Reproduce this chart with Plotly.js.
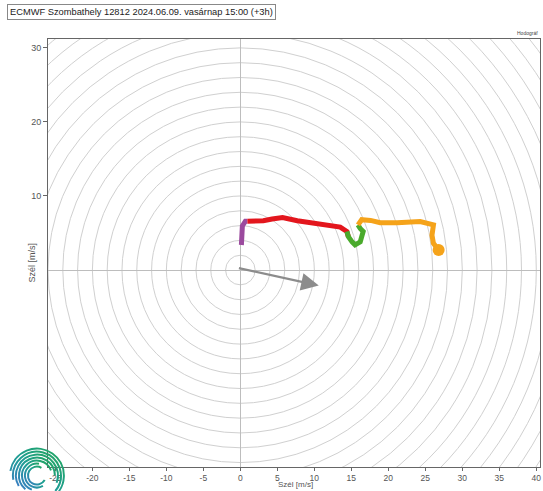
<!DOCTYPE html>
<html>
<head>
<meta charset="utf-8">
<script src="https://cdn.plot.ly/plotly-3.0.1.min.js"></script>
<style>html,body{margin:0;padding:0;background:#fff;}#chart{width:543px;height:491px;}</style>
</head>
<body>
<div id="chart"></div>
<script>
// Hodograph wind components (u, v) in m/s, per layer colour
var purpleU = [0.14, 0.14, 0.27, 0.68, 0.95];
var purpleV = [3.38, 5.10, 5.95, 6.60, 6.60];
var redU = [0.95, 3.1, 4.3, 5.7, 7.7, 9.9, 12.2, 13.5, 14.4, 14.6];
var redV = [6.60, 6.66, 6.9, 7.1, 6.66, 6.35, 6.1, 5.8, 5.2, 4.5];
var greenU = [14.4, 14.6, 15.1, 15.5, 16.2, 16.6, 16.2, 15.9];
var greenV = [5.2, 4.5, 3.8, 3.4, 3.8, 5.2, 5.6, 6.1];
var orangeU = [15.9, 16.4, 17.6, 18.9, 21.2, 23.0, 24.3, 26.1, 25.9, 26.1, 26.8];
var orangeV = [6.1, 6.8, 6.7, 6.4, 6.4, 6.4, 6.55, 6.1, 4.7, 3.6, 2.7];
var endU = [26.8];
var endV = [2.7];
// Mean wind arrow (start, end)
var arrowStart = [-0.4, 0.3];
var arrowEnd = [10.6, -2.1];
var xTicks = [-25, -20, -15, -10, -5, 0, 5, 10, 15, 20, 25, 30, 35, 40];
var yTicks = [10, 20, 30];
var titleText = "ECMWF Szombathely 12812 2024.06.09. vasárnap 15:00 (+3h)";
var axisTitle = "Szél [m/s]";
var cornerText = "Hodográf";

var ringStep = 2, ringMax = 60;
var shapes = [];
for (var r = ringStep; r <= ringMax; r += ringStep) {
  shapes.push({type: 'circle', xref: 'x', yref: 'y', x0: -r, x1: r, y0: -r, y1: r,
    line: {color: '#d0d0d0', width: 1}, layer: 'below'});
}

function seg(u, v, c) {
  return {x: u, y: v, mode: 'lines', type: 'scatter', hoverinfo: 'skip',
    line: {color: c, width: 5, shape: 'linear'}, showlegend: false};
}
var traces = [
  seg(purpleU, purpleV, '#9b4a9e'),
  seg(redU, redV, '#e3161d'),
  seg(greenU, greenV, '#4aaa2c'),
  seg(orangeU, orangeV, '#f5a31a'),
  {x: endU, y: endV, mode: 'markers', type: 'scatter', hoverinfo: 'skip',
   marker: {color: '#f5a31a', size: 12}, showlegend: false}
];

// Logo as inline SVG
function arc(cx, cy, r, a0, a1) {
  var p0 = [cx + r*Math.cos(a0*Math.PI/180), cy - r*Math.sin(a0*Math.PI/180)];
  var p1 = [cx + r*Math.cos(a1*Math.PI/180), cy - r*Math.sin(a1*Math.PI/180)];
  var large = ((a1 - a0) % 360) > 180 ? 1 : 0;
  return 'M' + p0[0].toFixed(2) + ' ' + p0[1].toFixed(2) + ' A' + r + ' ' + r + ' 0 ' + large + ' 0 ' + p1[0].toFixed(2) + ' ' + p1[1].toFixed(2);
}
var logoArcs = [[9, 60, 330], [12, 80, 300], [15, 20, 250], [18, 0, 230], [21, -20, 210], [24, -40, 190], [27, -60, 170]];
var svg = '<svg xmlns="http://www.w3.org/2000/svg" width="60" height="60" viewBox="0 0 60 60">' +
  '<defs><linearGradient id="g" x1="1" y1="0" x2="0" y2="1"><stop offset="0" stop-color="#22a65a"/><stop offset="0.5" stop-color="#1f9e93"/><stop offset="1" stop-color="#3a7dc4"/></linearGradient></defs>';
logoArcs.forEach(function (a) {
  svg += '<path d="' + arc(30, 30, a[0], a[1], a[2]) + '" fill="none" stroke="url(#g)" stroke-width="2"/>';
});
svg += '</svg>';
var logoSrc = 'data:image/svg+xml;base64,' + btoa(svg);

var layout = {
  width: 543, height: 491,
  margin: {l: 48, r: 3, t: 39, b: 24},
  paper_bgcolor: '#fff', plot_bgcolor: '#fff',
  font: {family: 'Liberation Sans, Arial, sans-serif', color: '#555', size: 9},
  xaxis: {range: [-26, 40.5], tickvals: xTicks, ticktext: xTicks.map(String),
    showgrid: false, zeroline: true, zerolinecolor: '#bdbdbd', zerolinewidth: 1,
    showline: true, linecolor: '#666', linewidth: 1, mirror: true, tickfont: {size: 8.5},
    ticks: 'outside', ticklen: 3, tickcolor: '#666', fixedrange: true},
  yaxis: {range: [-26.6, 31.2], tickvals: yTicks, ticktext: yTicks.map(String),
    showgrid: false, zeroline: true, zerolinecolor: '#bdbdbd', zerolinewidth: 1,
    showline: true, linecolor: '#666', linewidth: 1, mirror: true,
    ticks: 'outside', ticklen: 4, tickcolor: '#666', fixedrange: true},
  shapes: shapes,
  annotations: [
    {xref: 'paper', yref: 'paper', x: -0.083, y: 1.063, xanchor: 'left', yanchor: 'middle',
     text: titleText, showarrow: false, font: {size: 9.3, color: '#222'},
     bordercolor: '#888', borderwidth: 1, borderpad: 2, bgcolor: '#fff'},
    {xref: 'paper', yref: 'paper', x: 1, y: 1.003, xanchor: 'right', yanchor: 'bottom',
     text: cornerText, showarrow: false, font: {size: 5, color: '#444'}},
    {xref: 'paper', yref: 'paper', x: 0.503, y: -0.0545, xanchor: 'center', yanchor: 'bottom',
     text: axisTitle, showarrow: false, borderpad: 0, font: {size: 8, color: '#555'}},
    {xref: 'paper', yref: 'paper', x: -0.033, y: 0.477, xanchor: 'center', yanchor: 'middle',
     text: axisTitle, textangle: -90, showarrow: false, font: {size: 9, color: '#555'}},
    {x: arrowEnd[0], y: arrowEnd[1], ax: arrowStart[0], ay: arrowStart[1], axref: 'x', ayref: 'y',
     xref: 'x', yref: 'y', showarrow: true, arrowhead: 2, arrowsize: 1.6, arrowwidth: 2.2,
     arrowcolor: '#8c8c8c', text: ''}
  ],
  images: [{source: logoSrc, xref: 'paper', yref: 'paper', x: -0.085, y: -0.02,
    sizex: 0.125, sizey: 0.14, xanchor: 'left', yanchor: 'middle', layer: 'above'}]
};

Plotly.newPlot('chart', traces, layout, {displayModeBar: false, staticPlot: true});
</script>
</body>
</html>
